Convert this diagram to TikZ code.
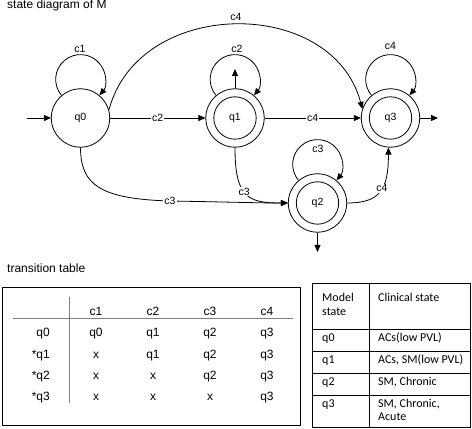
\documentclass[tikz,border=0pt]{standalone}
\usepackage{fontspec}
\setmainfont{Liberation Sans}
\newfontfamily\calib{Carlito}
\usetikzlibrary{arrows.meta}
\begin{document}
\begin{tikzpicture}[x=1pt,y=1pt,
  st/.style={circle,draw,line width=0.8pt,minimum size=58.4pt,inner sep=0pt,font=\fontsize{10.5}{12}\selectfont},
  inner/.style={line width=0.8pt},
  edge/.style={line width=0.8pt,-{Triangle[length=7pt,width=6pt]}},
  lbl/.style={fill=white,inner sep=1pt,font=\fontsize{10.5}{12}\selectfont},
  ttl/.style={anchor=base west,inner sep=0pt,font=\fontsize{12}{14}\selectfont},
  tcell/.style={anchor=base,inner sep=0pt,font=\fontsize{12}{14}\selectfont},
  trow/.style={anchor=base east,inner sep=0pt,font=\fontsize{12}{14}\selectfont},
  tline/.style={line width=0.8pt,gray},
  ccell/.style={anchor=base west,inner sep=0pt,font=\calib\fontsize{12}{13.5}\selectfont},
  cline/.style={line width=0.9pt},
]
\useasboundingbox (0,0) rectangle (472,429);

% ---------- state diagram ----------
\node[ttl] (title) at (7,420.7) {state diagram of M};

\node[st] (q0) at (80.5,311) {q0};
\node[st] (q1) at (235,311) {q1};
\node[st] (q3) at (390.5,311) {q3};
\node[st] (q2) at (317.5,226) {q2};
\foreach \n in {q1,q2,q3} \draw[inner] (\n.center) circle[radius=21.2];

\coordinate (start) at (27,311);
\coordinate (q3out) at (438,311);
\coordinate (q2out) at (317.5,177);
\coordinate (q1up) at (235,360);

\draw[edge] (start) -- (q0);
\draw[edge] (q3) -- (q3out);
\draw[edge] (q2) -- (q2out);
\draw[edge] (q1) -- (q1up);

\draw[edge] (q0) -- node[lbl]{c2} (q1);
\draw[edge] (q1) -- node[lbl]{c4} (q3);

% self loops
\draw[edge] (q0.130) arc[start angle=220,end angle=-40,radius=24.8];
\draw[edge] (q1.130) arc[start angle=220,end angle=-40,radius=24.8];
\draw[edge] (q3.130) arc[start angle=220,end angle=-40,radius=24.8];
\draw[edge] (q2.130) arc[start angle=220,end angle=-40,radius=24.8];
\node[lbl,fill=none] (l1) at (80,380) {c1};
\node[lbl] (l2) at (237,380) {c2};
\node[lbl,fill=none] (l4) at (390.5,383) {c4};
\node[lbl,fill=none] (l3) at (318,280) {c3};

% big arc q0 -> q3
\draw[edge] (q0.16) .. controls +(30,113) and +(-30,113) .. (q3.162);
\node[lbl,fill=none] (l5) at (236,412.5) {c4};

% q1 -> q2
\draw[edge] (q1.south) .. controls +(0,-50) and +(-40,0) .. (q2.west) node[pos=0.45,lbl]{c3};

% q0 -> q2
\coordinate (c3mid) at (170,228);
\draw[edge] (q0.south) .. controls +(0,-37) and +(-70,2) .. (c3mid) node[lbl]{c3}
  .. controls +(60,-1) and +(-30,0) .. (q2.west);

% q2 -> q3
\draw[edge] (q2.east) .. controls +(33,0) and +(0,-42) .. (q3.266) node[pos=0.55,lbl]{c4};

% ---------- transition table ----------
\node[ttl] (ttitle) at (7,156) {transition table};
\node[draw,line width=0.8pt,minimum width=298pt,minimum height=138pt,anchor=south west,inner sep=0pt] (tbox) at (2,3) {};
\coordinate (hl) at (13,111);
\coordinate (hr) at (293,111);
\coordinate (vt) at (69,132);
\coordinate (vb) at (69,26);
\draw[tline] (hl) -- (hr);
\draw[tline] (vt) -- (vb);

\node[tcell] (h1) at (96,113) {c1};
\node[tcell] (h2) at (153,113) {c2};
\node[tcell] (h3) at (210,113) {c3};
\node[tcell] (h4) at (267,113) {c4};

\node[trow] (r0) at (50,92.3) {q0};
\node[tcell] (r01) at (96,92.3) {q0};
\node[tcell] (r02) at (153,92.3) {q1};
\node[tcell] (r03) at (210,92.3) {q2};
\node[tcell] (r04) at (267,92.3) {q3};

\node[trow] (r1) at (50,70.7) {*q1};
\node[tcell] (r11) at (96,70.7) {x};
\node[tcell] (r12) at (153,70.7) {q1};
\node[tcell] (r13) at (210,70.7) {q2};
\node[tcell] (r14) at (267,70.7) {q3};

\node[trow] (r2) at (50,49) {*q2};
\node[tcell] (r21) at (96,49) {x};
\node[tcell] (r22) at (153,49) {x};
\node[tcell] (r23) at (210,49) {q2};
\node[tcell] (r24) at (267,49) {q3};

\node[trow] (r3) at (50,28.3) {*q3};
\node[tcell] (r31) at (96,28.3) {x};
\node[tcell] (r32) at (153,28.3) {x};
\node[tcell] (r33) at (210,28.3) {x};
\node[tcell] (r34) at (267,28.3) {q3};

% ---------- clinical table ----------
\draw[cline] (312.5,2) rectangle (470,146);
\draw[cline] (369.5,146) -- (369.5,2);
\draw[cline] (312.5,100) -- (470,100);
\draw[cline] (312.5,78) -- (470,78);
\draw[cline] (312.5,56) -- (470,56);
\draw[cline] (312.5,34) -- (470,34);

\node[ccell] (m1) at (322,127) {Model};
\node[ccell] (m2) at (322,113.7) {state};
\node[ccell] (m3) at (378,127) {Clinical state};
\node[ccell] (s0) at (322,87.5) {q0};
\node[ccell] (d0) at (378,87.5) {ACs(low PVL)};
\node[ccell] (s1) at (322,65.5) {q1};
\node[ccell] (d1) at (378,65.5) {ACs, SM(low PVL)};
\node[ccell] (s2) at (322,43.5) {q2};
\node[ccell] (d2) at (378,43.5) {SM, Chronic};
\node[ccell] (s3) at (322,21.5) {q3};
\node[ccell] (d3) at (378,21.5) {SM, Chronic,};
\node[ccell] (d3b) at (378,8) {Acute};
\end{tikzpicture}
\end{document}
